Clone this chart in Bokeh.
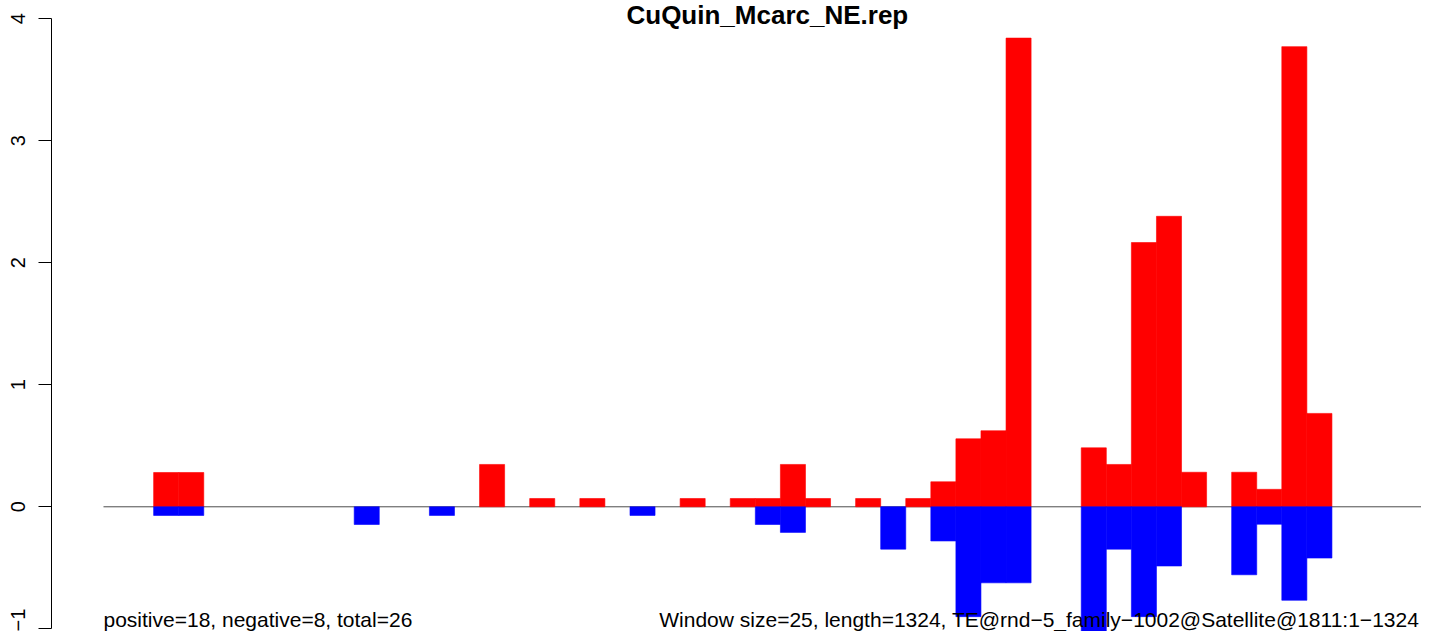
from bokeh.plotting import figure
from bokeh.models import Range1d, FixedTicker
from bokeh.core.properties import value
from bokeh.embed import file_html
from bokeh.resources import INLINE

# ---------------- data ----------------
title = "CuQuin_Mcarc_NE.rep"
window_size = 25
length = 1324
n_positive = 18
n_negative = 8
n_total = 26
te_name = "TE@rnd\u22125_family\u22121002@Satellite@1811:1\u22121324"

# one value per window of 25 bp (53 windows)
positive = [0, 0, 0.281, 0.281, 0, 0, 0, 0, 0, 0,
            0, 0, 0, 0, 0, 0.347, 0, 0.068, 0, 0.068,
            0, 0, 0, 0.068, 0, 0.068, 0.068, 0.347, 0.068, 0,
            0.068, 0, 0.068, 0.205, 0.557, 0.623, 3.84, 0, 0, 0.483,
            0.347, 2.165, 2.38, 0.283, 0, 0.283, 0.143, 3.77, 0.765, 0,
            0, 0, 0]
negative = [0, 0, -0.071, -0.071, 0, 0, 0, 0, 0, 0,
            -0.145, 0, 0, -0.071, 0, 0, 0, 0, 0, 0,
            0, -0.071, 0, 0, 0, 0, -0.145, -0.21, 0, 0,
            0, -0.347, 0, -0.28, -0.90, -0.623, -0.623, 0, 0, -1.03,
            -0.347, -0.90, -0.485, 0, 0, -0.557, -0.143, -0.766, -0.42, 0,
            0, 0, 0]

y_ticks = [-1, 0, 1, 2, 3, 4]
y_tick_labels = ["\u22121", "0", "1", "2", "3", "4"]

# ---------------- layout ----------------
X_START, X_END = -51.85, 1314.3
Y_START, Y_END = -1.0217, 4.148
FONT = "Liberation Sans"
RED, BLUE = "#FF0000", "#0000FF"

p = figure(width=1421, height=631, title=None,
           x_range=Range1d(X_START, X_END), y_range=Range1d(Y_START, Y_END),
           output_backend="svg", toolbar_location=None,
           x_axis_location=None, y_axis_location="left",
           min_border_left=51, min_border_right=0,
           min_border_top=0, min_border_bottom=0,
           outline_line_color=None,
           background_fill_color="white", border_fill_color="white")
p.grid.visible = False

# zero line (drawn under the bars)
p.segment(x0=[0], y0=[0], x1=[length], y1=[0], line_color="#4d4d4d", line_width=1)

pos_idx = [i for i, v in enumerate(positive) if v != 0]
neg_idx = [i for i, v in enumerate(negative) if v != 0]

p.quad(left=[i * window_size for i in pos_idx],
       right=[(i + 1) * window_size for i in pos_idx],
       bottom=[0] * len(pos_idx), top=[positive[i] for i in pos_idx],
       fill_color=RED, line_color=RED, line_width=0.6)
p.quad(left=[i * window_size for i in neg_idx],
       right=[(i + 1) * window_size for i in neg_idx],
       top=[0] * len(neg_idx), bottom=[negative[i] for i in neg_idx],
       fill_color=BLUE, line_color=BLUE, line_width=0.6)

# y axis (R style)
ax = p.yaxis[0]
ax.bounds = (y_ticks[0], y_ticks[-1])
ax.ticker = FixedTicker(ticks=y_ticks)
ax.major_label_overrides = {t: l for t, l in zip(y_ticks, y_tick_labels)}
ax.major_label_orientation = "vertical"
ax.major_label_text_font = FONT
ax.major_label_text_font_size = "20px"
ax.major_label_text_color = "black"
ax.major_label_standoff = 13
ax.major_tick_out = 13
ax.major_tick_in = 0
ax.minor_tick_out = 0
ax.minor_tick_in = 0
ax.major_tick_line_color = "black"
ax.major_tick_line_width = 1
ax.axis_line_color = "black"
ax.axis_line_width = 1

# title and margin texts
p.text(x=[length / 2], y=[Y_END], text=[title], text_align="center",
       text_baseline="top", text_font=value(FONT), text_font_style="bold",
       text_font_size="26px", text_color="black", y_offset=-1)
p.text(x=[0], y=[Y_START], text=[f"positive={n_positive}, negative={n_negative}, total={n_total}"],
       text_align="left", text_baseline="bottom", text_font=value(FONT),
       text_font_size="21px", text_color="black", y_offset=-1)
p.text(x=[length], y=[Y_START],
       text=[f"Window size={window_size}, length={length}, {te_name}"],
       text_align="right", text_baseline="bottom", text_font=value(FONT),
       text_font_size="21px", text_color="black", y_offset=-1, x_offset=-12)

open("out.html", "w").write(file_html(p, INLINE))
